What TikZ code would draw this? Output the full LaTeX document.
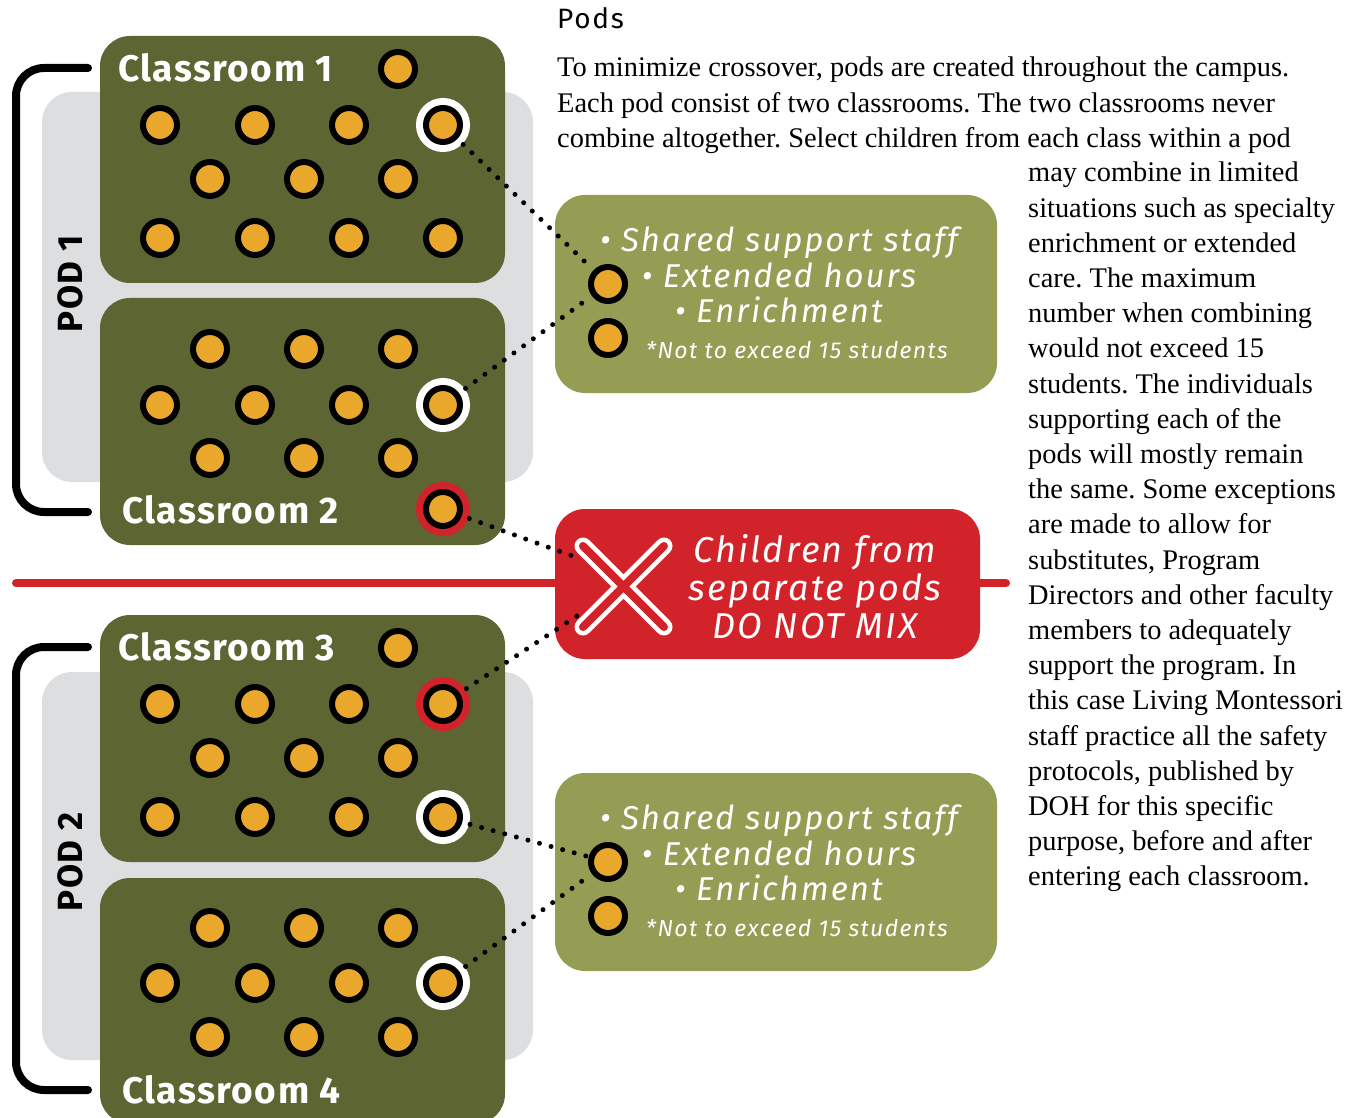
\documentclass[tikz,border=0pt]{standalone}
\usepackage{fontspec}
\setmainfont{Liberation Serif}
\setsansfont{Fira Sans}
\newfontfamily\widesans[LetterSpace=6]{Fira Sans}
\newfontfamily\roomsans[LetterSpace=4]{Fira Sans}

\definecolor{roomgreen}{RGB}{93,101,51}
\definecolor{boxgreen}{RGB}{149,156,83}
\definecolor{podgray}{RGB}{221,222,224}
\definecolor{kidorange}{RGB}{233,168,44}
\definecolor{podred}{RGB}{210,35,42}

\tikzset{
  student/.style={circle, draw=black, fill=kidorange, line width=6pt, minimum size=34pt, inner sep=0pt},
  picked/.style={preaction={draw=white, line width=20pt}},
  barred/.style={preaction={draw=podred, line width=20pt}},
  link/.style={line width=5pt, dash pattern=on 0pt off 12pt, line cap=round},
  roomlabel/.style={font=\roomsans\bfseries\fontsize{37}{40}\selectfont, text=white, anchor=west, inner sep=0pt},
  podlabel/.style={font=\roomsans\bfseries\fontsize{35}{38}\selectfont, rotate=90, inner sep=0pt},
  perk/.style={font=\widesans\itshape\fontsize{33}{35.5}\selectfont, text=white, align=center, inner sep=0pt},
  note/.style={font=\widesans\itshape\fontsize{23}{26}\selectfont, text=white, inner sep=0pt},
  warn/.style={font=\widesans\itshape\fontsize{36}{38}\selectfont, text=white, align=center, inner sep=0pt},
  prose/.style={font=\frenchspacing\fontsize{28.4}{35.2}\selectfont, align=left, anchor=north west, inner sep=0pt}
}

\begin{document}
\begin{tikzpicture}[x=1pt, y=-1pt]
  \useasboundingbox (0,0) rectangle (1353,1118);

  % Divider between the pods
  \draw[podred, line width=8pt, line cap=round] (16,583) -- (1006,583);

  % --- POD 1 ---
  \fill[podgray, rounded corners=30pt] (42,92) rectangle (533,482);
  \draw[line width=8pt, line cap=round, rounded corners=28pt] (88,68) -- (16,68) -- (16,512) -- (88,512);
  \node[podlabel] (pod1) at (70,284) {POD 1};
  \fill[roomgreen, rounded corners=30pt] (100,36) rectangle (505,283);
  \fill[roomgreen, rounded corners=30pt] (100,298) rectangle (505,545);
  \node[roomlabel] (room1) at (118,68) {Classroom 1};
  \node[roomlabel] (room2) at (122,510) {Classroom 2};

  % --- POD 2 ---
  \fill[podgray, rounded corners=30pt] (42,672) rectangle (533,1060);
  \draw[line width=8pt, line cap=round, rounded corners=28pt] (88,647) -- (16,647) -- (16,1090) -- (88,1090);
  \node[podlabel] (pod2) at (70,862) {POD 2};
  \fill[roomgreen, rounded corners=30pt] (100,615) rectangle (505,862);
  \fill[roomgreen, rounded corners=30pt] (100,878) rectangle (505,1124);
  \node[roomlabel] (room3) at (118,647) {Classroom 3};
  \node[roomlabel] (room4) at (122,1090) {Classroom 4};

  % Shared boxes and the warning
  \fill[boxgreen, rounded corners=30pt] (555,195) rectangle (997,393);
  \fill[boxgreen, rounded corners=30pt] (555,773) rectangle (997,971);
  \fill[podred, rounded corners=30pt] (555,509) rectangle (980,659);

  \node[perk] (perks1) at (779,275) {• Shared support staff\\ • Extended hours\\ • Enrichment};
  \node[note] (note1) at (797,350) {*Not to exceed 15 students};
  \node[perk] (perks2) at (779,853) {• Shared support staff\\ • Extended hours\\ • Enrichment};
  \node[note] (note2) at (797,928) {*Not to exceed 15 students};
  \node[warn] (nomix) at (815,587) {Children from\\ separate pods\\ DO NOT MIX};

  % Classroom 1
  \node[student] (c1top) at (398,69) {};
  \foreach \x [count=\i] in {160, 255, 349} \node[student] (c1a\i) at (\x,125) {};
  \node[student, picked] (c1pick) at (443,125) {};
  \foreach \x [count=\i] in {210, 304, 398} \node[student] (c1b\i) at (\x,179) {};
  \foreach \x [count=\i] in {160, 255, 349, 443} \node[student] (c1c\i) at (\x,238) {};

  % Classroom 2
  \foreach \x [count=\i] in {210, 304, 398} \node[student] (c2a\i) at (\x,349) {};
  \foreach \x [count=\i] in {160, 255, 349} \node[student] (c2b\i) at (\x,405) {};
  \node[student, picked] (c2pick) at (443,405) {};
  \foreach \x [count=\i] in {210, 304, 398} \node[student] (c2c\i) at (\x,458) {};
  \node[student, barred] (c2bar) at (443,509) {};

  % Classroom 3
  \node[student] (c3top) at (398,648) {};
  \foreach \x [count=\i] in {160, 255, 349} \node[student] (c3a\i) at (\x,704) {};
  \node[student, barred] (c3bar) at (443,704) {};
  \foreach \x [count=\i] in {210, 304, 398} \node[student] (c3b\i) at (\x,758) {};
  \foreach \x [count=\i] in {160, 255, 349} \node[student] (c3c\i) at (\x,817) {};
  \node[student, picked] (c3pick) at (443,817) {};

  % Classroom 4
  \foreach \x [count=\i] in {210, 304, 398} \node[student] (c4a\i) at (\x,928) {};
  \foreach \x [count=\i] in {160, 255, 349} \node[student] (c4b\i) at (\x,983) {};
  \node[student, picked] (c4pick) at (443,983) {};
  \foreach \x [count=\i] in {210, 304, 398} \node[student] (c4c\i) at (\x,1037) {};

  % Children in the shared boxes
  \node[student] (mix1) at (608,284) {};
  \node[student] (mix1b) at (608,338) {};
  \node[student] (mix2) at (608,862) {};
  \node[student] (mix2b) at (608,916) {};

  % Dotted links
  \coordinate (cross1) at (578,558);
  \coordinate (cross2) at (580,614);
  \draw[link, shorten <=8pt, shorten >=3pt] (c1pick) -- (mix1);
  \draw[link, shorten <=8pt, shorten >=3pt] (c2pick) -- (mix1);
  \draw[link, shorten <=8pt, shorten >=3pt] (c3pick) -- (mix2);
  \draw[link, shorten <=8pt, shorten >=3pt] (c4pick) -- (mix2);
  \draw[link, shorten <=8pt] (c2bar) -- (cross1);
  \draw[link, shorten <=8pt] (c3bar) -- (cross2);

  % Crossed out
  \draw[white, line width=17pt, line cap=round] (583,546) -- (664,627) (664,546) -- (583,627);
  \draw[podred, line width=8pt, line cap=round] (583,546) -- (664,627) (664,546) -- (583,627);

  % Text on the right
  \node[font=\widesans\fontsize{28}{30}\selectfont, anchor=base west, inner sep=0pt] (title) at (557,29) {Pods};
  \node[prose] (intro) at (557,57) {To minimize crossover, pods are created throughout the campus.\\
    Each pod consist of two classrooms. The two classrooms never\\
    combine altogether. Select children from each class within a pod};
  \node[prose] (more) at (1028,162) {may combine in limited\\ situations such as specialty\\
    enrichment or extended\\ care. The maximum\\ number when combining\\
    would not exceed 15\\ students. The individuals\\ supporting each of the\\
    pods will mostly remain\\ the same. Some exceptions\\ are made to allow for\\
    substitutes, Program\\ Directors and other faculty\\ members to adequately\\
    support the program. In\\ this case Living Montessori\\ staff practice all the safety\\
    protocols, published by\\ DOH for this specific\\ purpose, before and after\\
    entering each classroom.};
\end{tikzpicture}
\end{document}
